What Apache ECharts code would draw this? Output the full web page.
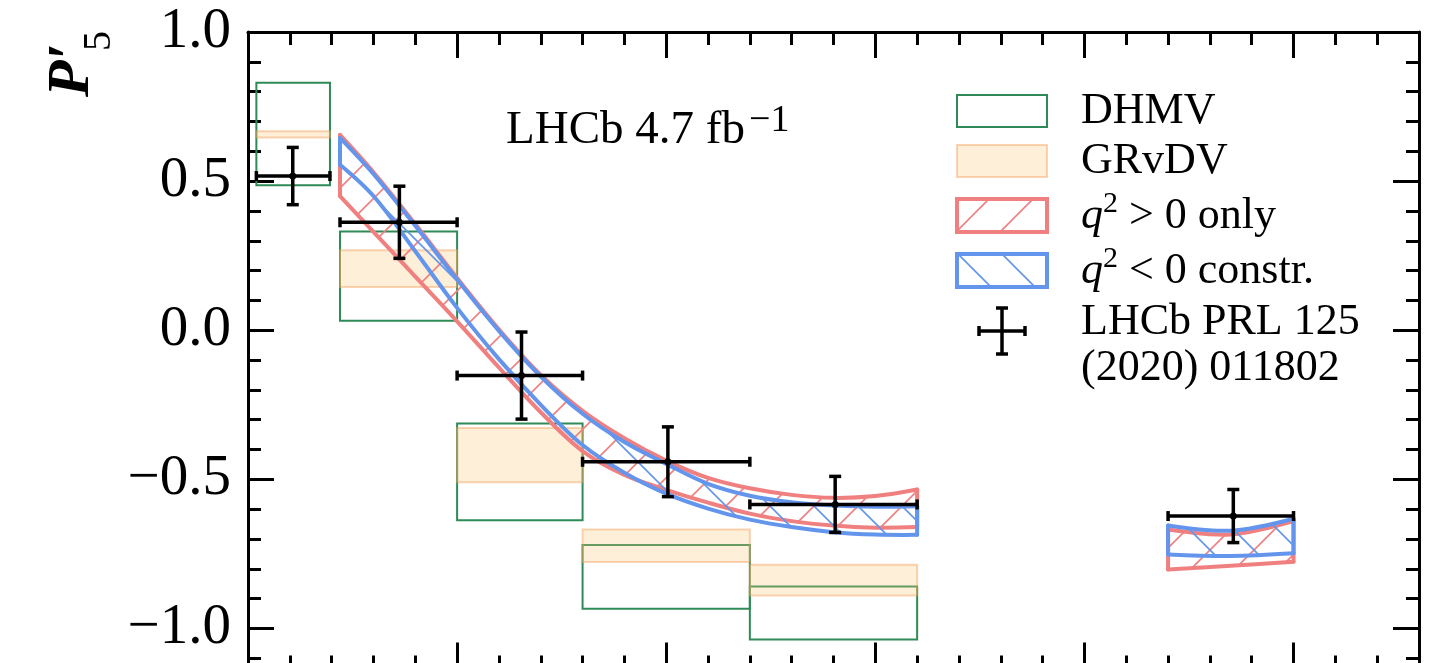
<!DOCTYPE html>
<html>
<head>
<meta charset="utf-8">
<title>P5' vs q2</title>
<script src="https://cdn.jsdelivr.net/npm/echarts@6/dist/echarts.min.js"></script>
<style>
  html, body { margin: 0; padding: 0; background: #fff; }
  #chart { width: 1450px; height: 663px; }
</style>
</head>
<body>
<div id="chart"></div>
<script>
// q^2 bins (GeV^2)
var binLo = [0.1, 1.1, 2.5, 4.0, 6.0, 11.0];
var binHi = [0.98, 2.5, 4.0, 6.0, 8.0, 12.5];
// DHMV prediction boxes
var dhmvLo = [0.486, 0.032, -0.637, -0.934, -1.037];
var dhmvHi = [0.830, 0.331, -0.313, -0.720, -0.859];
// GRvDV prediction boxes
var grvdvLo = [0.646, 0.145, -0.510, -0.777, -0.889];
var grvdvHi = [0.667, 0.268, -0.328, -0.668, -0.786];
// LHCb PRL 125 (2020) 011802
var lhcbX = [0.535, 1.81, 3.27, 5.02, 7.02, 11.78];
var lhcbY = [0.517, 0.362, -0.152, -0.441, -0.584, -0.623];
var lhcbErr = [0.096, 0.121, 0.146, 0.117, 0.094, 0.089];
// fit bands, low q2 region
var bandX1 = [1.1, 1.5, 2.0, 2.5, 3.0, 3.5, 4.0, 4.5, 5.0, 5.5, 6.0, 6.5, 7.0, 7.5, 8.0];
var redHi1 = [0.655, 0.530, 0.356, 0.175, 0.003, -0.150, -0.270, -0.362, -0.437, -0.495, -0.530, -0.552, -0.562, -0.556, -0.534];
var redLo1 = [0.450, 0.330, 0.180, 0.030, -0.125, -0.275, -0.405, -0.485, -0.535, -0.578, -0.615, -0.640, -0.655, -0.662, -0.660];
var blueHi1 = [0.645, 0.524, 0.350, 0.170, -0.002, -0.155, -0.280, -0.375, -0.448, -0.515, -0.555, -0.577, -0.588, -0.592, -0.590];
var blueLo1 = [0.555, 0.450, 0.265, 0.075, -0.097, -0.250, -0.385, -0.478, -0.548, -0.598, -0.635, -0.660, -0.677, -0.685, -0.686];
// fit bands, [11, 12.5]
var bandX2 = [11.0, 11.75, 12.5];
var redHi2 = [-0.668, -0.685, -0.640];
var redLo2 = [-0.802, -0.790, -0.776];
var blueHi2 = [-0.655, -0.672, -0.632];
var blueLo2 = [-0.752, -0.757, -0.748];

var SERIF = '"Liberation Serif", "Times New Roman", serif';
var RED = '#f08080';
var BLUE = '#6495ed';
var GREEN = '#2e8b57';
var ORANGE_FILL = 'rgba(253,196,120,0.28)';
var ORANGE_EDGE = 'rgba(245,160,90,0.45)';

// hatch pattern, dir 1 = '/', -1 = '\'
function hatch(color, dir) {
  var s = 44;
  var c = document.createElement('canvas');
  c.width = s; c.height = s;
  var g = c.getContext('2d');
  g.strokeStyle = color;
  g.lineWidth = 1.6;
  g.beginPath();
  if (dir > 0) {
    g.moveTo(-4, s + 4); g.lineTo(s + 4, -4);
    g.moveTo(-4, 4); g.lineTo(4, -4);
    g.moveTo(s - 4, s + 4); g.lineTo(s + 4, s - 4);
  } else {
    g.moveTo(-4, -4); g.lineTo(s + 4, s + 4);
    g.moveTo(s - 4, -4); g.lineTo(s + 4, 4);
    g.moveTo(-4, s - 4); g.lineTo(4, s + 4);
  }
  g.stroke();
  return { image: c, repeat: 'repeat' };
}
var redHatch = hatch(RED, 1);
var blueHatch = hatch(BLUE, -1);

function boxSeries(name, lo, hi, style, z) {
  return {
    type: 'custom', name: name, z: z,
    data: lo.map(function (v, i) { return [binLo[i], binHi[i], lo[i], hi[i]]; }),
    encode: { x: [0, 1], y: [2, 3] },
    renderItem: function (params, api) {
      var p0 = api.coord([api.value(0), api.value(3)]);
      var p1 = api.coord([api.value(1), api.value(2)]);
      return {
        type: 'rect',
        shape: { x: p0[0], y: p0[1], width: p1[0] - p0[0], height: p1[1] - p0[1] },
        style: style
      };
    }
  };
}

function bandSeries(name, xs, hi, lo, color, pattern, z) {
  return {
    type: 'custom', name: name, z: z,
    data: xs.map(function (x, i) { return [x, lo[i], hi[i]]; }),
    encode: { x: 0, y: [1, 2] },
    renderItem: function (params, api) {
      if (params.dataIndex !== 0) return;
      var up = [], dn = [];
      for (var i = 0; i < xs.length; i++) {
        up.push(api.coord([xs[i], hi[i]]));
        dn.push(api.coord([xs[i], lo[i]]));
      }
      var n = xs.length - 1;
      var edge = { stroke: color, lineWidth: 4, fill: 'none', lineJoin: 'round', lineCap: 'round' };
      return {
        type: 'group',
        children: [
          { type: 'polygon', shape: { points: up.concat(dn.slice().reverse()) }, style: { fill: pattern, stroke: 'none' } },
          { type: 'polyline', shape: { points: up, smooth: 0.35 }, style: edge },
          { type: 'polyline', shape: { points: dn, smooth: 0.35 }, style: edge },
          { type: 'line', shape: { x1: up[0][0], y1: up[0][1], x2: dn[0][0], y2: dn[0][1] }, style: edge },
          { type: 'line', shape: { x1: up[n][0], y1: up[n][1], x2: dn[n][0], y2: dn[n][1] }, style: edge }
        ]
      };
    }
  };
}

function errSeries() {
  return {
    type: 'custom', name: 'LHCb', z: 10,
    data: lhcbX.map(function (x, i) {
      return [x, lhcbY[i], binLo[i], binHi[i], lhcbY[i] - lhcbErr[i], lhcbY[i] + lhcbErr[i]];
    }),
    encode: { x: [0, 2, 3], y: [1, 4, 5] },
    renderItem: function (params, api) {
      var c = api.coord([api.value(0), api.value(1)]);
      var l = api.coord([api.value(2), api.value(1)]);
      var r = api.coord([api.value(3), api.value(1)]);
      var b = api.coord([api.value(0), api.value(4)]);
      var t = api.coord([api.value(0), api.value(5)]);
      var st = { stroke: '#000', lineWidth: 3.5, fill: 'none' };
      var cap = 5, capV = 6;
      return {
        type: 'group',
        children: [
          { type: 'line', shape: { x1: l[0], y1: l[1], x2: r[0], y2: r[1] }, style: st },
          { type: 'line', shape: { x1: t[0], y1: t[1], x2: b[0], y2: b[1] }, style: st },
          { type: 'line', shape: { x1: l[0], y1: l[1] - cap, x2: l[0], y2: l[1] + cap }, style: st },
          { type: 'line', shape: { x1: r[0], y1: r[1] - cap, x2: r[0], y2: r[1] + cap }, style: st },
          { type: 'line', shape: { x1: t[0] - capV, y1: t[1], x2: t[0] + capV, y2: t[1] }, style: st },
          { type: 'line', shape: { x1: b[0] - capV, y1: b[1], x2: b[0] + capV, y2: b[1] }, style: st },
          { type: 'circle', shape: { cx: c[0], cy: c[1], r: 3.5 }, style: { fill: '#000' } }
        ]
      };
    }
  };
}

function xAx(pos, offset) {
  return {
    type: 'value', position: pos, offset: offset, min: 0, max: 14, interval: 2.5,
    axisLine: { onZero: false, lineStyle: { color: '#000', width: 3 } },
    axisTick: { inside: true, length: 26, lineStyle: { color: '#000', width: 3 } },
    minorTick: { show: true, splitNumber: 5, length: 13, lineStyle: { color: '#000', width: 3 } },
    axisLabel: { show: false },
    splitLine: { show: false }
  };
}
function yAx(pos, labels) {
  return {
    type: 'value', position: pos, min: -1.5, max: 1.0, interval: 0.5,
    axisLine: { onZero: false, lineStyle: { color: '#000', width: 3 } },
    axisTick: { inside: true, length: 26, lineStyle: { color: '#000', width: 3 } },
    minorTick: { show: true, splitNumber: 5, length: 13, lineStyle: { color: '#000', width: 3 } },
    axisLabel: {
      show: labels, margin: 17, fontSize: 57, fontFamily: SERIF, color: '#000',
      formatter: function (v) { return (v < -1e-9 ? '\u2212' : '') + Math.abs(v).toFixed(1); }
    },
    splitLine: { show: false }
  };
}

function txt(x, y, s, size, extra) {
  var st = { text: s, fontSize: size, fontFamily: SERIF, fill: '#000', align: 'left', verticalAlign: 'middle' };
  for (var k in extra) st[k] = extra[k];
  return { type: 'text', x: x, y: y, style: st, z: 100 };
}
function seg(x1, y1, x2, y2) {
  return { type: 'line', shape: { x1: x1, y1: y1, x2: x2, y2: y2 }, style: { stroke: '#000', lineWidth: 3.5 }, z: 100 };
}

var legendX = 957, legendW = 90, textX = 1081;
var crossX = 1002, crossY = 331;
var graphic = [
  // y axis name P'_5
  {
    type: 'group', x: 72, y: 97, rotation: Math.PI / 2, z: 100,
    children: [
      txt(0, 0, 'P\u2032', 60, { fontStyle: 'italic', fontWeight: 'bold' }),
      txt(46, 27, '5', 40, {})
    ]
  },
  txt(506, 131, 'LHCb 4.7 fb', 47, {}),
  txt(749, 121, '\u22121', 38, {}),
  // legend
  { type: 'rect', shape: { x: legendX, y: 95, width: legendW, height: 32 }, style: { fill: 'none', stroke: GREEN, lineWidth: 2 }, z: 100 },
  txt(textX, 111, 'DHMV', 44, {}),
  { type: 'rect', shape: { x: legendX, y: 145, width: legendW, height: 32 }, style: { fill: ORANGE_FILL, stroke: ORANGE_EDGE, lineWidth: 2 }, z: 100 },
  txt(textX, 161, 'GRvDV', 44, {}),
  { type: 'rect', shape: { x: legendX, y: 199, width: legendW, height: 33 }, style: { fill: redHatch, stroke: RED, lineWidth: 4 }, z: 100 },
  txt(textX, 216, 'q', 44, { fontStyle: 'italic' }),
  txt(textX + 22, 204, '2', 30, {}),
  txt(textX + 37, 216, ' > 0 only', 44, {}),
  { type: 'rect', shape: { x: legendX, y: 254, width: legendW, height: 33 }, style: { fill: blueHatch, stroke: BLUE, lineWidth: 4 }, z: 100 },
  txt(textX, 271, 'q', 44, { fontStyle: 'italic' }),
  txt(textX + 22, 259, '2', 30, {}),
  txt(textX + 37, 271, ' < 0 constr.', 44, {}),
  seg(crossX - 23, crossY, crossX + 23, crossY),
  seg(crossX, crossY - 23, crossX, crossY + 23),
  seg(crossX - 23, crossY - 5, crossX - 23, crossY + 5),
  seg(crossX + 23, crossY - 5, crossX + 23, crossY + 5),
  seg(crossX - 6, crossY - 23, crossX + 6, crossY - 23),
  seg(crossX - 6, crossY + 23, crossX + 6, crossY + 23),
  txt(textX, 322, 'LHCb PRL 125', 44, {}),
  txt(textX, 368, '(2020) 011802', 44, {})
];

var chart = echarts.init(document.getElementById('chart'), null, { renderer: 'canvas' });
var option = {
  animation: false,
  backgroundColor: '#fff',
  grid: { left: 248, right: 31, top: 32, height: 745.6, containLabel: false, outerBoundsMode: 'none' },
  xAxis: [xAx('bottom', -109), xAx('top', 0)],
  yAxis: [yAx('left', true), yAx('right', false)],
  graphic: graphic,
  series: [
    boxSeries('DHMV', dhmvLo, dhmvHi, { fill: 'none', stroke: GREEN, lineWidth: 2 }, 1),
    boxSeries('GRvDV', grvdvLo, grvdvHi, { fill: ORANGE_FILL, stroke: ORANGE_EDGE, lineWidth: 2 }, 2),
    bandSeries('q2 > 0 only', bandX1, redHi1, redLo1, RED, redHatch, 3),
    bandSeries('q2 > 0 only', bandX2, redHi2, redLo2, RED, redHatch, 3),
    bandSeries('q2 < 0 constr.', bandX1, blueHi1, blueLo1, BLUE, blueHatch, 4),
    bandSeries('q2 < 0 constr.', bandX2, blueHi2, blueLo2, BLUE, blueHatch, 4),
    errSeries()
  ]
};
chart.setOption(option);
window.onresize = chart.resize;
</script>
</body>
</html>
